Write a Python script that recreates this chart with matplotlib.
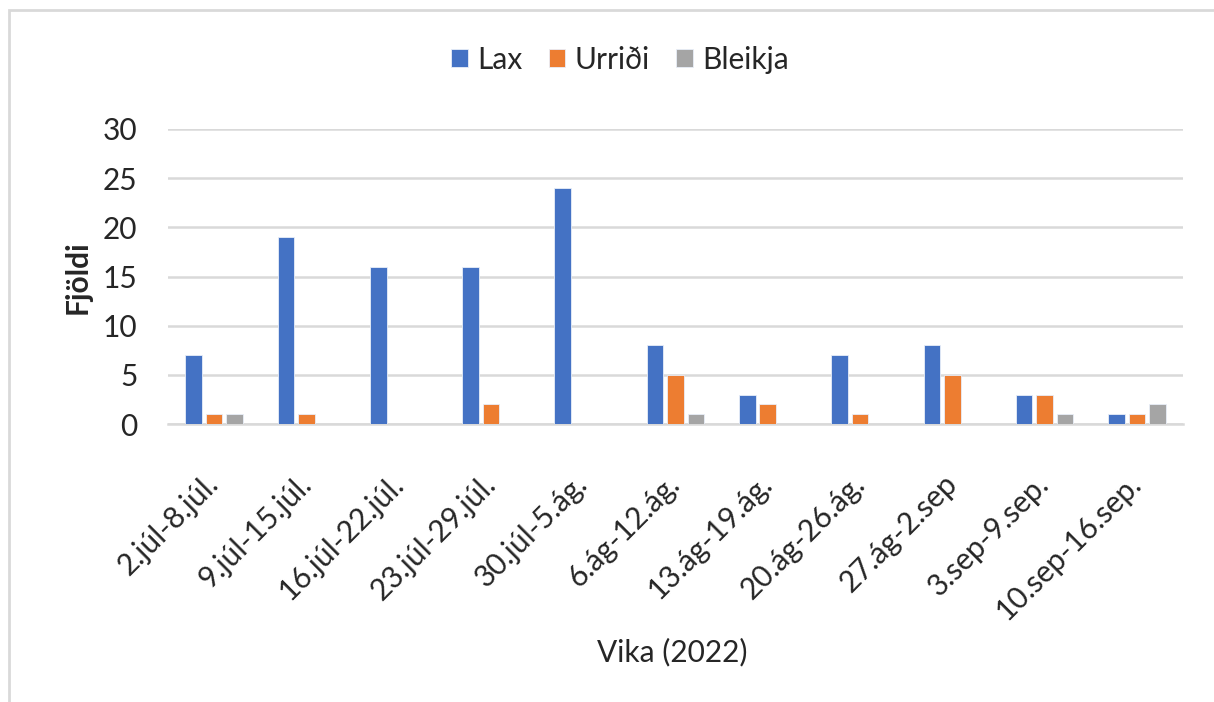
import numpy as np
import matplotlib.pyplot as plt
from matplotlib.patches import Rectangle

# Data
weeks = ['2.júl-8.júl.', '9.júl-15.júl.', '16.júl-22.júl.', '23.júl-29.júl.', '30.júl-5.ág.',
         '6.ág-12.ág.', '13.ág-19.ág.', '20.ág-26.ág.', '27.ág-2.sep', '3.sep-9.sep.',
         '10.sep-16.sep.']
lax = [7, 19, 16, 16, 24, 8, 3, 7, 8, 3, 1]
urridi = [1, 1, 0, 2, 0, 5, 2, 1, 5, 3, 1]
bleikja = [1, 0, 0, 0, 0, 1, 0, 0, 0, 1, 2]
series_names = ['Lax', 'Urriði', 'Bleikja']
colors = ['#4472C4', '#ED7D31', '#A5A5A5']

plt.rcParams['font.family'] = ['Lato', 'DejaVu Sans']
text_color = '#262626'
fs = 21.5

W, H = 1214, 702
fig = plt.figure(figsize=(W / 100, H / 100), dpi=100)

# chart border (Excel style)
fig.patches.append(Rectangle((9 / W, -0.05), 1.0, 1 - 10 / H + 0.05, transform=fig.transFigure,
                             fill=False, edgecolor='#d9d9d9', linewidth=2))

ax = fig.add_axes([168 / W, 1 - 424 / H, (1183 - 168) / W, (424 - 129) / H])

x = np.arange(len(weeks))
bw = 0.18
step = 0.222
for i, (vals, name) in enumerate(zip([lax, urridi, bleikja], series_names)):
    ax.bar(x + (i - 1) * step, vals, width=bw, color=colors[i], edgecolor='#e8eef8',
           linewidth=0.6, label=name, zorder=3)

ax.set_xlim(-0.5, len(weeks) - 0.5)
ax.set_ylim(0, 30)
ax.set_yticks(range(0, 31, 5))
ax.yaxis.grid(True, color='#d9d9d9', linewidth=1.8, zorder=0)
for s in ['top', 'right', 'left']:
    ax.spines[s].set_visible(False)
ax.spines['bottom'].set_color('#d9d9d9')
ax.spines['bottom'].set_linewidth(1.8)
ax.tick_params(axis='both', length=0, labelsize=fs, labelcolor=text_color)
ax.tick_params(axis='y', pad=22)
ax.set_xticks(x)
ax.set_xticklabels(weeks, rotation=45, ha='right', va='center', rotation_mode='anchor')
ax.tick_params(axis='x', pad=40)

fig.text(78 / W, 1 - 277 / H, 'Fjöldi', rotation=90, ha='center', va='center',
         fontsize=fs, fontweight='bold', color=text_color)
fig.text(672 / W, 1 - 652 / H, 'Vika (2022)', ha='center', va='center',
         fontsize=fs, color=text_color)

fig.legend(loc='center', bbox_to_anchor=(620 / W, 1 - 60 / H), ncol=3, frameon=False,
           fontsize=fs, handlelength=0.55, handleheight=0.55, handletextpad=0.3,
           columnspacing=0.9, labelcolor=text_color)

fig.savefig('out.png', dpi=100)
